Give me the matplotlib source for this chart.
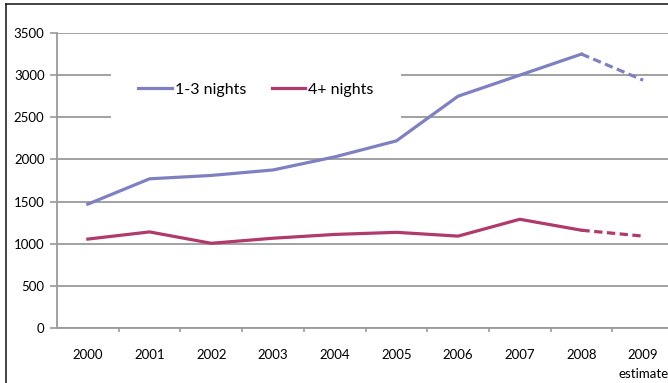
import matplotlib.pyplot as plt
from matplotlib.lines import Line2D

years = ['2000', '2001', '2002', '2003', '2004', '2005', '2006', '2007', '2008', '2009']
short_stay = [1470, 1770, 1810, 1875, 2030, 2220, 2750, 3000, 3250, 2940]
long_stay = [1055, 1140, 1005, 1065, 1110, 1135, 1090, 1290, 1160, 1090]

blue = '#7f80c2'
red = '#b03a6c'
grey = '#9a9a9a'

plt.rcParams['font.family'] = ['Lato', 'DejaVu Sans']

fig = plt.figure(figsize=(6.68, 3.83), dpi=100)
# plot area runs past the right edge of the figure; stop the axes at the edge
ax = fig.add_axes([57 / 668, 1 - 328 / 383, 611 / 668, 295 / 383])

x = list(range(len(years)))
# solid up to 2008, dashed for the 2009 estimate
ax.plot(x[:9], short_stay[:9], color=blue, lw=2.3, label='1-3 nights', zorder=3)
ax.plot(x[8:], short_stay[8:], color=blue, lw=2.3, ls=(0, (2.6, 1.4)), zorder=3)
ax.plot(x[:9], long_stay[:9], color=red, lw=2.3, label='4+ nights', zorder=3)
ax.plot(x[8:], long_stay[8:], color=red, lw=2.3, ls=(0, (2.6, 1.4)), zorder=3)

ax.set_xlim(-0.5, -0.5 + 10 * 611 / 617)
ax.set_ylim(0, 3500)
ax.set_yticks(range(0, 3501, 500))
ax.yaxis.grid(True, color=grey, lw=1.3)
ax.set_axisbelow(True)

ax.set_xticks(x)
ax.set_xticklabels(years)
ax.set_xticks([i + 0.5 for i in range(9)], minor=True)
ax.tick_params(axis='x', which='major', length=0, pad=15, labelsize=9.5)
ax.tick_params(axis='x', which='minor', length=3, color=grey, width=1.2)
ax.tick_params(axis='y', length=5, color=grey, width=1.2, labelsize=9.5, pad=4)

for side in ('top', 'right'):
    ax.spines[side].set_visible(False)
for side in ('left', 'bottom'):
    ax.spines[side].set_color(grey)
    ax.spines[side].set_linewidth(1.3)

ax.text(9, -470, 'estimate', ha='center', va='top', fontsize=9.5)

leg = ax.legend(loc='upper left', bbox_to_anchor=(0.075, 0.95), ncol=2, frameon=True,
                fontsize=11.5, handlelength=2.1, handletextpad=0.2, columnspacing=1.6,
                borderpad=1.7, fancybox=False)
leg.get_frame().set_edgecolor('none')
leg.get_frame().set_facecolor('white')
leg.get_frame().set_alpha(1)

# outer frame, only top and left edges are in view
fx = 6 / 668
fy = 1 - 4 / 383
fig.add_artist(Line2D([fx, 1], [fy, fy], transform=fig.transFigure, color='#222222', lw=1.2))
fig.add_artist(Line2D([fx, fx], [0, fy], transform=fig.transFigure, color='#222222', lw=1.2))

fig.savefig('out.png', dpi=100)
